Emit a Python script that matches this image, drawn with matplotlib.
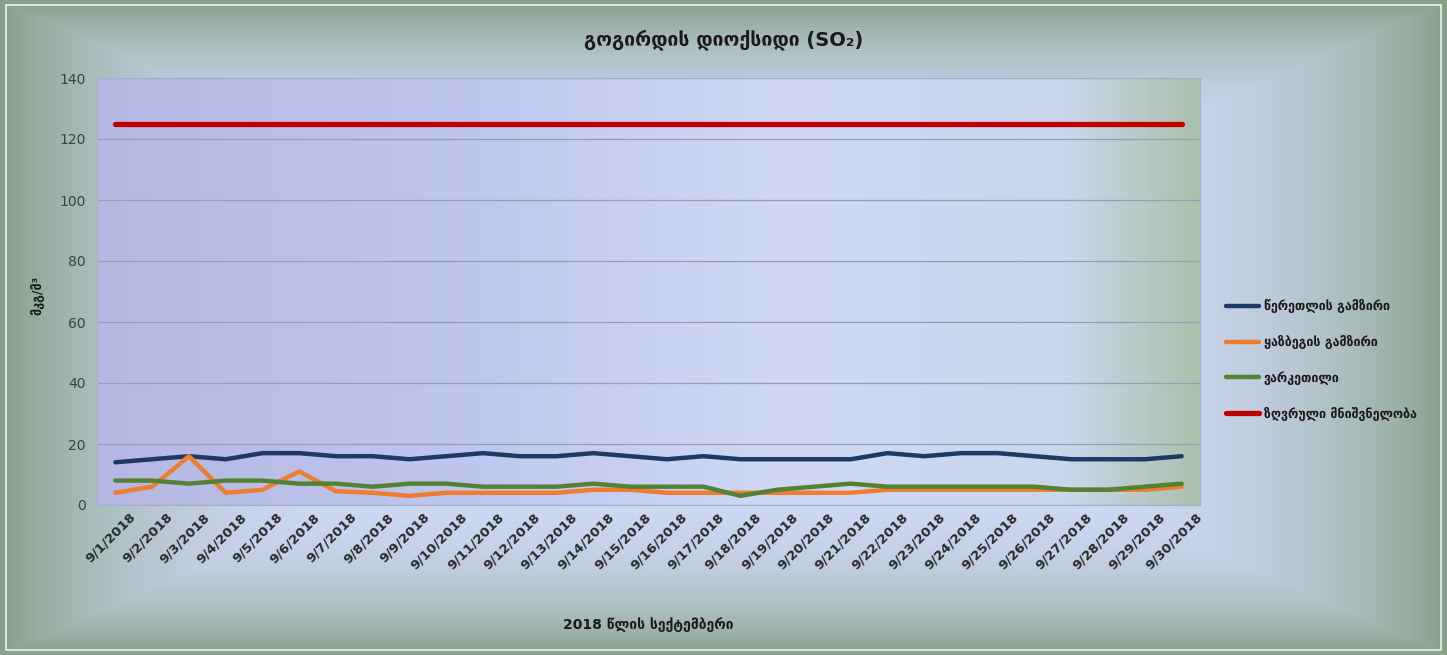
import numpy as np
import matplotlib
matplotlib.use("Agg")
import matplotlib.pyplot as plt
import matplotlib.transforms as mtransforms
from matplotlib.patches import Rectangle
from matplotlib.colors import LinearSegmentedColormap

plt.rcParams['font.family'] = ['DejaVu Sans']

# ---- data -------------------------------------------------------------
dates = [f"9/{d}/2018" for d in range(1, 31)]

tsereteli = [14, 15, 16, 15, 17, 17, 16, 16, 15, 16,
             17, 16, 16, 17, 16, 15, 16, 15, 15, 15,
             15, 17, 16, 17, 17, 16, 15, 15, 15, 16]
kazbegi = [4, 6, 16, 4, 5, 11, 4.5, 4, 3, 4,
           4, 4, 4, 5, 5, 4, 4, 4, 4, 4,
           4, 5, 5, 5, 5, 5, 5, 5, 5, 6]
varketili = [8, 8, 7, 8, 8, 7, 7, 6, 7, 7,
             6, 6, 6, 7, 6, 6, 6, 3, 5, 6,
             7, 6, 6, 6, 6, 6, 5, 5, 6, 7]
limit_value = [125] * 30

series_names = ["წერეთლის გამზირი", "ყაზბეგის გამზირი", "ვარკეთილი", "ზღვრული მნიშვნელობა"]
series_colors = ["#1f3864", "#ed7d31", "#548235", "#c00000"]

title = "გოგირდის დიოქსიდი (SO₂)"
ylabel = "მკგ/მ³"
xlabel = "2018 წლის სექტემბერი"

# ---- figure -----------------------------------------------------------
W, H = 1447, 655
fig = plt.figure(figsize=(W / 100, H / 100), dpi=100)

# rectangular gradient background (light centre, grey-green rim)
bg_ax = fig.add_axes([0, 0, 1, 1], zorder=-10)
bg_ax.set_axis_off()
yy, xx = np.mgrid[0:H, 0:W]
dx = np.abs(xx - W / 2) / (W / 2)
dy = np.abs(yy - H / 2) / (H / 2)
d = np.maximum(dx, dy)
t = np.clip(d, 0, 1) ** 4.5
centre = np.array([210, 220, 250]) / 255
edge = np.array([135, 160, 135]) / 255
bg = centre[None, None, :] * (1 - t[..., None]) + edge[None, None, :] * t[..., None]
bg_ax.imshow(bg, extent=[0, 1, 0, 1], aspect='auto', interpolation='bilinear')
bg_ax.set_xlim(0, 1)
bg_ax.set_ylim(0, 1)
bg_ax.add_patch(Rectangle((0.004, 0.007), 0.992, 0.986, fill=False,
                          edgecolor='#eef0f6', linewidth=1.2))

ax = fig.add_axes([97 / W, 1 - 505 / H, (1200 - 97) / W, (505 - 78) / H])
ax.set_facecolor('none')

# plot-area shading: lavender on the left, light blue middle, green on the right
pa_cmap = LinearSegmentedColormap.from_list(
    "pa",
    [(0.0, (180 / 255, 184 / 255, 226 / 255)),
     (0.35, (192 / 255, 199 / 255, 238 / 255)),
     (0.62, (208 / 255, 216 / 255, 246 / 255)),
     (0.88, (202 / 255, 214 / 255, 236 / 255)),
     (1.0, (172 / 255, 192 / 255, 172 / 255))])
grad = np.linspace(0, 1, 512)[None, :]
ax.imshow(grad, cmap=pa_cmap, extent=[0, 1, 0, 1], transform=ax.transAxes,
          aspect='auto', zorder=0, interpolation='bilinear')

x = np.arange(len(dates))
all_series = [tsereteli, kazbegi, varketili, limit_value]
widths = [3.2, 3.2, 3.2, 3.8]
for vals, name, col, lw in zip(all_series, series_names, series_colors, widths):
    ax.plot(x, vals, color=col, lw=lw, label=name, solid_joinstyle='round',
            solid_capstyle='round', zorder=3)

ax.set_xlim(-0.5, len(dates) - 0.5)
ax.set_ylim(0, 140)
ax.set_yticks(np.arange(0, 141, 20))
ax.yaxis.grid(True, color='#9a9cb4', linewidth=0.9, zorder=1)
ax.set_axisbelow(True)
ax.tick_params(axis='y', length=0, labelsize=10, labelcolor='#404040', pad=8)
ax.tick_params(axis='x', length=0, pad=4)
ax.set_xticks(x)
ax.set_xticklabels(dates, rotation=45, ha='right', rotation_mode='anchor',
                   fontsize=9.5, fontweight='bold', color='#2a2a2a')
shift = mtransforms.ScaledTranslation(14 / 100, 0, fig.dpi_scale_trans)
for lbl in ax.get_xticklabels():
    lbl.set_transform(lbl.get_transform() + shift)
for s in ax.spines.values():
    s.set_color('#a8aec8')
    s.set_linewidth(0.8)

fig.text(0.5, 1 - 40 / H, title, ha='center', va='center', fontsize=14,
         fontweight='bold', color='#1a1a1a')
fig.text(37 / W, 1 - 295 / H, ylabel, rotation=90, ha='center', va='center',
         fontsize=9, fontweight='bold', color='#1a1a1a')
fig.text(648 / W, 1 - 625 / H, xlabel, ha='center', va='center', fontsize=10,
         fontweight='bold', color='#1a1a1a')

leg = fig.legend(loc='center left', bbox_to_anchor=(1215 / W, 1 - 360 / H),
                 frameon=False, fontsize=9, handlelength=2.6, labelspacing=1.75,
                 handletextpad=0.4)
for txt in leg.get_texts():
    txt.set_color('#1a1a1a')
    txt.set_fontweight('bold')

fig.savefig("out.png", dpi=100)
